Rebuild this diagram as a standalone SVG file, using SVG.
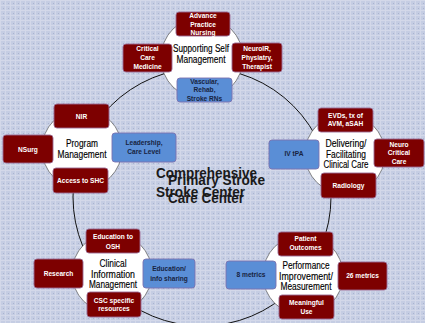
<svg xmlns="http://www.w3.org/2000/svg" width="425" height="323" viewBox="0 0 425 323">
<defs>
<pattern id="bg" width="5" height="5" patternUnits="userSpaceOnUse">
<rect width="5" height="5" fill="#c5cde3"/>
<rect x="0" y="0" width="5" height="1" fill="#d3d8e9"/>
<rect x="0" y="0" width="1" height="5" fill="#d3d8e9"/>
<rect x="3" y="3" width="1" height="1" fill="#aab3ce"/>
</pattern>
<style>
.hub{fill:#ffffff;stroke:#555555;stroke-width:0.7}
.red{fill:#7d0000;stroke:#9a6a92;stroke-width:0.9}
.blue{fill:#5a8ed6;stroke:#7a72b0;stroke-width:0.9}
.rt{font-family:"Liberation Sans",Arial,sans-serif;font-weight:bold;font-size:6.6px;fill:#ffffff;text-anchor:middle}
.bt{font-family:"Liberation Sans",Arial,sans-serif;font-weight:bold;font-size:6.6px;fill:#17233f;text-anchor:middle}
.tt{font-family:"Liberation Sans",Arial,sans-serif;font-size:10px;fill:#000000;text-anchor:middle;stroke:#000000;stroke-width:0.15}
.ct{font-family:"Liberation Sans",Arial,sans-serif;font-weight:bold;font-size:14px;fill:#1a1a1a}
</style>
</defs>
<rect width="425" height="323" fill="url(#bg)"/>
<g id="connectors">
<circle cx="202" cy="197" r="129" fill="none" stroke="#111111" stroke-width="1"/>
</g>
<g id="center-label">
<text class="ct" x="156" y="178" textLength="101" lengthAdjust="spacingAndGlyphs">Comprehensive</text>
<text class="ct" x="156" y="197" textLength="89" lengthAdjust="spacingAndGlyphs">Stroke Center</text>
<text class="ct" x="168" y="185" textLength="97" lengthAdjust="spacingAndGlyphs">Primary Stroke</text>
<text class="ct" x="168" y="203" textLength="76" lengthAdjust="spacingAndGlyphs">Care Center</text>
</g>
<g id="supporting-self-management">
<circle class="hub" cx="202" cy="58" r="41"/>
<text class="tt" x="201" y="51.5" textLength="56" lengthAdjust="spacingAndGlyphs">Supporting Self</text>
<text class="tt" x="201" y="62.5" textLength="49" lengthAdjust="spacingAndGlyphs">Management</text>
<rect class="red" x="176" y="12" width="54" height="24" rx="3"/>
<text class="rt" x="203" y="18.2">Advance</text>
<text class="rt" x="203" y="26.6">Practice</text>
<text class="rt" x="203" y="35">Nursing</text>
<rect class="red" x="123" y="44" width="49" height="28" rx="3"/>
<text class="rt" x="147.5" y="51.3">Critical</text>
<text class="rt" x="147.5" y="60.3">Care</text>
<text class="rt" x="147.5" y="69.3">Medicine</text>
<rect class="red" x="232" y="43" width="50" height="29" rx="3"/>
<text class="rt" x="257" y="51.3">NeuroIR,</text>
<text class="rt" x="257" y="60">Physiatry,</text>
<text class="rt" x="257" y="69">Therapist</text>
<rect class="blue" x="177" y="78" width="55" height="24" rx="3"/>
<text class="bt" x="204.5" y="84.3">Vascular,</text>
<text class="bt" x="204.5" y="92.3">Rehab,</text>
<text class="bt" x="204.5" y="101">Stroke RNs</text>
</g>
<g id="program-management">
<circle class="hub" cx="82" cy="149" r="40"/>
<text class="tt" x="82" y="146.5" textLength="32" lengthAdjust="spacingAndGlyphs">Program</text>
<text class="tt" x="82" y="157.5" textLength="49" lengthAdjust="spacingAndGlyphs">Management</text>
<rect class="red" x="54" y="104" width="55" height="24" rx="3"/>
<text class="rt" x="81.5" y="119.3">NIR</text>
<rect class="red" x="3" y="135" width="50" height="28" rx="3"/>
<text class="rt" x="28" y="152.3">NSurg</text>
<rect class="blue" x="112" y="133" width="64" height="29" rx="3"/>
<text class="bt" x="144" y="145.3">Leadership,</text>
<text class="bt" x="144" y="154.3">Care Level</text>
<rect class="red" x="53" y="168" width="55" height="25" rx="3"/>
<text class="rt" x="80.5" y="183.3">Access to SHC</text>
</g>
<g id="delivering-clinical-care">
<circle class="hub" cx="345" cy="154" r="40"/>
<text class="tt" x="346" y="146.5" textLength="41" lengthAdjust="spacingAndGlyphs">Delivering/</text>
<text class="tt" x="346" y="157.5" textLength="40" lengthAdjust="spacingAndGlyphs">Facilitating</text>
<text class="tt" x="346" y="167.5" textLength="45" lengthAdjust="spacingAndGlyphs">Clinical Care</text>
<rect class="red" x="318" y="108" width="55" height="24" rx="3"/>
<text class="rt" x="345.5" y="118.3">EVDs, tx of</text>
<text class="rt" x="345.5" y="126.3">AVM, aSAH</text>
<rect class="blue" x="269" y="140" width="50" height="29" rx="3"/>
<text class="bt" x="294" y="156.3">IV tPA</text>
<rect class="red" x="374" y="139" width="50" height="28" rx="3"/>
<text class="rt" x="399" y="147.3">Neuro</text>
<text class="rt" x="399" y="155.3">Critical</text>
<text class="rt" x="399" y="164.3">Care</text>
<rect class="red" x="321" y="173" width="55" height="25" rx="3"/>
<text class="rt" x="348.5" y="188.3">Radiology</text>
</g>
<g id="clinical-information-management">
<circle class="hub" cx="112" cy="273" r="40"/>
<text class="tt" x="113" y="266.5" textLength="27" lengthAdjust="spacingAndGlyphs">Clinical</text>
<text class="tt" x="113" y="277.5" textLength="44" lengthAdjust="spacingAndGlyphs">Information</text>
<text class="tt" x="113" y="287.5" textLength="48" lengthAdjust="spacingAndGlyphs">Management</text>
<rect class="red" x="86" y="229" width="54" height="24" rx="3"/>
<text class="rt" x="113" y="239.3">Education to</text>
<text class="rt" x="113" y="249.3">OSH</text>
<rect class="red" x="34" y="259" width="49" height="29" rx="3"/>
<text class="rt" x="58.5" y="276.3">Research</text>
<rect class="blue" x="143" y="259" width="52" height="29" rx="3"/>
<text class="bt" x="169" y="271.3">Education/</text>
<text class="bt" x="169" y="281.3">info sharing</text>
<rect class="red" x="87" y="292" width="54" height="25" rx="3"/>
<text class="rt" x="114" y="303.3">CSC specific</text>
<text class="rt" x="114" y="311.3">resources</text>
</g>
<g id="performance-improvement">
<circle class="hub" cx="303" cy="275" r="40"/>
<text class="tt" x="306" y="268.5" textLength="47" lengthAdjust="spacingAndGlyphs">Performance</text>
<text class="tt" x="306" y="279.5" textLength="54" lengthAdjust="spacingAndGlyphs">Improvement/</text>
<text class="tt" x="306" y="289.5" textLength="51" lengthAdjust="spacingAndGlyphs">Measurement</text>
<rect class="red" x="278" y="232" width="55" height="24" rx="3"/>
<text class="rt" x="305.5" y="241.3">Patient</text>
<text class="rt" x="305.5" y="250.3">Outcomes</text>
<rect class="blue" x="226" y="261" width="50" height="28" rx="3"/>
<text class="bt" x="251" y="277.3">8 metrics</text>
<rect class="red" x="338" y="262" width="49" height="28" rx="3"/>
<text class="rt" x="362.5" y="278.3">26 metrics</text>
<rect class="red" x="279" y="295" width="55" height="24" rx="3"/>
<text class="rt" x="306.5" y="305.3">Meaningful</text>
<text class="rt" x="306.5" y="314.3">Use</text>
</g>
</svg>
